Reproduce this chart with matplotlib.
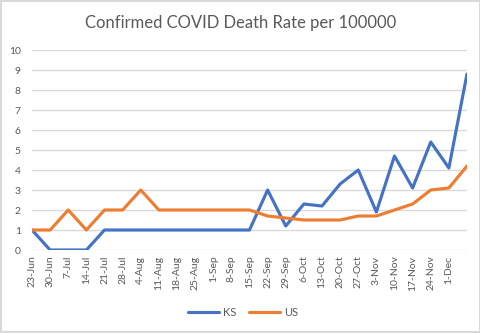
import matplotlib
matplotlib.use("Agg")
import matplotlib.pyplot as plt

# weekly observations; the last point has no axis label in the original
week_labels = [
    "23-Jun", "30-Jun", "7-Jul", "14-Jul", "21-Jul", "28-Jul", "4-Aug",
    "11-Aug", "18-Aug", "25-Aug", "1-Sep", "8-Sep", "15-Sep", "22-Sep",
    "29-Sep", "6-Oct", "13-Oct", "20-Oct", "27-Oct", "3-Nov", "10-Nov",
    "17-Nov", "24-Nov", "1-Dec",
]
ks_rate = [1, 0, 0, 0, 1, 1, 1, 1, 1, 1, 1, 1, 1, 3, 1.2, 2.3, 2.2, 3.3,
           4.0, 1.9, 4.7, 3.1, 5.4, 4.1, 8.8]
us_rate = [1, 1, 2, 1, 2, 2, 3, 2, 2, 2, 2, 2, 2, 1.7, 1.6, 1.5, 1.5, 1.5,
           1.7, 1.7, 2.0, 2.3, 3.0, 3.1, 4.2]

TEXT = "#595959"
GRID = "#D9D9D9"

plt.rcParams.update({"font.family": ["Lato", "DejaVu Sans"]})

fig = plt.figure(figsize=(4.81, 3.33), dpi=100)
fig.patch.set_facecolor("white")
fig.patch.set_edgecolor(GRID)
fig.patch.set_linewidth(1.5)

W, H = 481, 333
ax = fig.add_axes([32 / W, (H - 250) / H, (467 - 32) / W, 200 / H])

x = list(range(len(ks_rate)))
ax.plot(x, ks_rate, color="#4472C4", lw=2.25, solid_joinstyle="round",
        solid_capstyle="round", label="KS", zorder=3)
ax.plot(x, us_rate, color="#ED7D31", lw=2.25, solid_joinstyle="round",
        solid_capstyle="round", label="US", zorder=3)

ax.set_xlim(0, len(ks_rate) - 1)
ax.set_ylim(0, 10)
ax.set_yticks(range(0, 11))
ax.set_xticks(range(len(week_labels)))
ax.set_xticklabels(week_labels, rotation=90, fontsize=7.5, color=TEXT)
ax.tick_params(axis="y", labelsize=7.5, labelcolor=TEXT, length=0, pad=8)
ax.tick_params(axis="x", length=0, pad=4)
ax.grid(axis="y", color=GRID, linewidth=1)
ax.set_axisbelow(True)
for s in ax.spines.values():
    s.set_visible(False)

fig.text(0.5, 1 - 23 / H, "Confirmed COVID Death Rate per 100000",
         ha="center", va="center", fontsize=12, color=TEXT)

fig.legend(loc="center", bbox_to_anchor=(243 / W, 1 - 312 / H), ncol=2,
           frameon=False, fontsize=8, labelcolor=TEXT, handlelength=2.8,
           handletextpad=0.3, columnspacing=1.2)

fig.savefig("out.png", dpi=100, facecolor=fig.get_facecolor(),
            edgecolor=fig.get_edgecolor())
